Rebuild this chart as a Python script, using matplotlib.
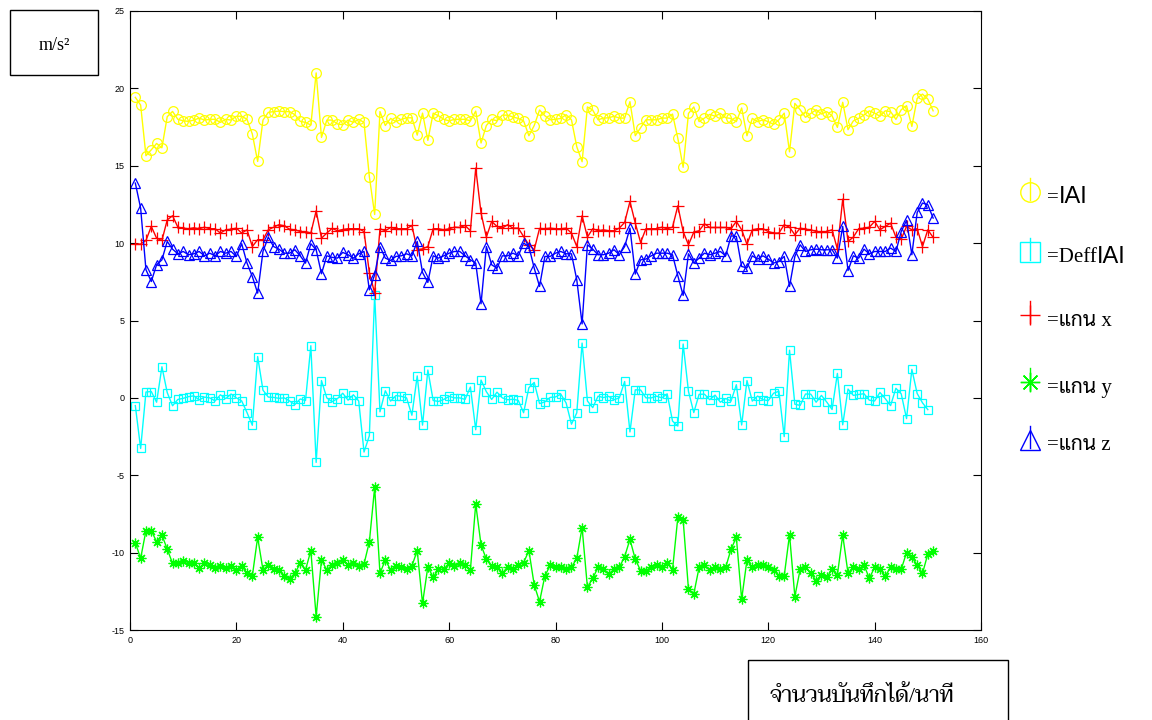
import numpy as np
import matplotlib
matplotlib.use("Agg")
import matplotlib.pyplot as plt
from matplotlib.patches import Rectangle

# DATA (samples 1..151)
mag = [19.42, 18.92, 15.65, 16.03, 16.44, 16.16, 18.17, 18.51, 18.0, 17.9,
       17.87, 17.95, 18.08, 17.95, 18.0, 18.0, 17.8, 18.0, 17.95, 18.2,
       18.2, 18.0, 17.05, 15.28, 17.95, 18.45, 18.5, 18.53, 18.5, 18.5,
       18.3, 17.87, 17.8, 17.63, 21.0, 16.83, 17.95, 17.95, 17.7, 17.65,
       17.95, 17.8, 18.0, 17.8, 14.3, 11.85, 18.5, 17.6, 18.06, 17.85,
       18.0, 18.1, 18.1, 16.98, 18.4, 16.64, 18.4, 18.23, 18.0, 17.9,
       18.0, 18.0, 18.0, 17.9, 18.53, 16.47, 17.6, 18.0, 17.9, 18.27,
       18.27, 18.15, 18.06, 17.9, 16.94, 17.6, 18.6, 18.23, 17.97, 18.0,
       18.06, 18.3, 17.97, 16.23, 15.26, 18.8, 18.6, 17.97, 18.08, 18.1,
       18.2, 18.08, 18.08, 19.14, 16.94, 17.46, 17.97, 17.97, 17.97, 18.08,
       18.08, 18.34, 16.77, 14.9, 18.38, 18.8, 17.85, 18.08, 18.32, 18.2,
       18.38, 18.1, 18.06, 17.85, 18.73, 16.94, 18.06, 17.85, 17.97, 17.85,
       17.67, 17.97, 18.4, 15.9, 19.03, 18.62, 18.13, 18.38, 18.62, 18.34,
       18.5, 18.23, 17.48, 19.1, 17.33, 17.9, 18.06, 18.28, 18.55, 18.4,
       18.2, 18.55, 18.5, 18.0, 18.62, 18.88, 17.54, 19.35, 19.63, 19.31,
       18.55]

# samples 1..150
deff = [-0.50, -3.27, 0.38, 0.41, -0.28, 2.01, 0.34, -0.51, -0.10, -0.03,
        0.08, 0.13, -0.13, 0.05, 0.0, -0.20, 0.20, -0.05, 0.25, 0.0,
        -0.20, -0.95, -1.77, 2.67, 0.50, 0.05, 0.03, -0.03, 0.0, -0.20,
        -0.43, -0.07, -0.17, 3.37, -4.17, 1.12, 0.0, -0.25, -0.05, 0.30,
        -0.15, 0.20, -0.20, -3.50, -2.45, 6.65, -0.90, 0.46, -0.21, 0.15,
        0.10, 0.0, -1.12, 1.42, -1.76, 1.80, -0.17, -0.23, -0.10, 0.10,
        0.0, 0.0, -0.10, 0.70, -2.06, 1.15, 0.40, -0.10, 0.37, 0.0,
        -0.12, -0.09, -0.16, -0.96, 0.66, 1.00, -0.37, -0.26, 0.03, 0.06,
        0.24, -0.33, -1.70, -0.97, 3.54, -0.20, -0.63, 0.11, 0.02, 0.10,
        -0.12, 0.0, 1.06, -2.20, 0.52, 0.51, 0.0, 0.0, 0.11, 0.0,
        0.26, -1.50, -1.82, 3.48, 0.42, -0.95, 0.23, 0.24, -0.12, 0.18,
        -0.28, -0.04, -0.21, 0.85, -1.75, 1.12, -0.21, 0.12, -0.12, -0.18,
        0.30, 0.43, -2.50, 3.08, -0.41, -0.49, 0.25, 0.24, -0.28, 0.16,
        -0.27, -0.75, 1.58, -1.74, 0.57, 0.16, 0.22, 0.27, -0.15, -0.20,
        0.35, -0.05, -0.50, 0.62, 0.26, -1.34, 1.84, 0.28, -0.32, -0.76]

ax_x = [9.94, 9.94, 10.17, 11.08, 10.32, 10.17, 11.5, 11.77, 11.03, 10.97,
        10.93, 10.99, 10.93, 11.03, 10.93, 10.93, 10.65, 10.86, 10.9, 10.97,
        10.65, 10.86, 9.78, 10.22, 10.22, 10.86, 11.03, 11.19, 11.12, 10.9,
        10.86, 10.75, 10.75, 10.65, 12.09, 10.32, 10.65, 10.95, 10.8, 10.88,
        10.93, 10.93, 10.93, 10.75, 8.1, 6.77, 10.93, 10.8, 11.01, 10.93,
        10.93, 10.93, 11.14, 9.57, 9.63, 9.78, 10.93, 10.93, 10.86, 10.93,
        11.03, 11.01, 11.14, 10.8, 14.85, 11.94, 10.39, 11.4, 11.08, 10.97,
        11.19, 10.97, 10.97, 10.43, 9.89, 9.57, 10.95, 10.93,
        10.97, 10.93, 10.93, 10.97, 10.65, 9.78, 11.77, 10.39, 10.93, 10.8,
        10.86, 10.8, 10.8, 10.97, 11.34, 12.69, 11.29, 10.04, 10.93, 10.93,
        10.93, 11.03, 10.93, 11.03, 12.41, 10.75, 9.89, 10.71, 10.8, 11.25,
        11.01, 11.01, 11.01, 11.01, 10.93, 11.4, 10.86, 9.92, 10.86,
        10.93, 10.93, 10.75, 10.65, 10.65, 11.19, 11.03, 10.54, 10.97, 10.9,
        10.86, 10.75, 10.75, 10.75, 10.86, 9.61, 12.84, 10.11, 10.39, 10.93,
        10.97, 11.03, 11.4, 10.86, 11.08, 11.29, 10.39, 10.26, 11.08, 10.86,
        10.93, 9.78, 10.86, 10.37]

ax_y = [-9.35, -10.37, -8.58, -8.58, -9.29, -8.86, -9.78, -10.69, -10.69, -10.52,
        -10.65, -10.65, -11.01, -10.65, -10.8, -11.01, -10.86, -11.01, -10.86, -11.12,
        -10.86, -11.34, -11.51, -9.01, -11.12, -10.8, -11.08, -11.12, -11.51, -11.68,
        -11.34, -10.69, -11.12, -9.87, -14.14, -10.47, -11.12, -10.8, -10.65, -10.47,
        -10.8, -10.69, -10.86, -10.73, -9.31, -5.78, -11.34, -10.47, -11.12, -10.86,
        -10.95, -11.08, -10.86, -9.87, -13.28, -10.91, -11.59, -11.08, -11.08, -10.69,
        -10.86, -10.65, -10.8, -11.12, -6.85, -9.5, -10.43, -10.86, -10.91, -11.34,
        -10.91, -11.08, -10.8, -10.65, -9.87, -12.09, -13.17,
        -11.51, -10.82, -10.95, -10.95, -11.08, -10.95, -10.37, -8.38, -12.24, -11.66,
        -10.95, -11.08, -11.38, -11.08, -10.95, -10.26, -9.14, -10.43, -11.16, -11.16,
        -10.95, -10.82, -10.95, -10.65, -11.12, -7.72, -7.89, -12.37, -12.67, -10.95,
        -10.82, -11.12, -10.95, -11.08, -10.95, -9.78, -9.01, -13.02, -10.47, -10.95,
        -10.8, -10.8, -10.95, -11.12, -11.51, -11.51, -8.84, -12.84, -11.08, -10.95,
        -11.34, -11.81, -11.44, -11.59, -11.08, -11.44, -8.86, -11.34, -10.95, -11.08,
        -10.8, -11.66, -10.95, -11.08, -11.51, -10.95, -11.08, -11.08, -10.0, -10.3,
        -10.8, -11.34, -10.09, -9.87]

ax_z = [13.88, 12.26, 8.28, 7.52, 8.6, 8.92, 10.11, 9.61, 9.31, 9.46,
        9.25, 9.31, 9.46, 9.18, 9.35, 9.18, 9.46, 9.35, 9.46, 9.14,
        9.96, 8.71, 7.84, 6.77, 9.46, 10.39, 9.78, 9.61, 9.35, 9.35,
        9.57, 9.18, 8.71, 9.96, 9.57, 8.02, 9.18, 9.08, 9.03, 9.4,
        9.25, 9.03, 9.31, 9.46, 6.98, 7.95, 9.78, 9.03, 8.88, 9.14,
        9.18, 9.31, 9.18, 10.11, 8.1, 7.46, 9.18, 9.03, 9.18, 9.35,
        9.46, 9.46, 9.18, 8.92, 8.71, 6.08, 9.78, 8.6, 8.38, 9.18,
        9.18, 9.35, 9.18, 10.0, 9.78, 8.38, 7.2, 9.14,
        9.14, 9.35, 9.46, 9.31, 9.31, 7.63, 4.78, 9.89, 9.61, 9.25,
        9.25, 9.35, 9.57, 9.25, 9.78, 10.97, 8.0, 8.92, 8.97, 9.18,
        9.35, 9.35, 9.35, 9.25, 7.89, 6.62, 9.31, 8.71, 9.03, 9.35,
        9.25, 9.35, 9.46, 9.18, 10.47, 10.43, 8.49, 8.4, 9.18,
        8.97, 9.18, 8.97, 8.71, 8.81, 9.14, 7.2, 9.14, 9.89, 9.46,
        9.57, 9.61, 9.57, 9.57, 9.57, 9.03, 11.08, 8.23, 9.18, 9.03,
        9.61, 9.31, 9.46, 9.46, 9.46, 9.68, 9.46, 10.75, 11.47, 9.25,
        11.98, 12.59, 12.48, 11.62]

# legend labels: (serif part, sans part) pairs
legend_labels = [("=", "IAI"), ("=Deff", "IAI"), ("=แกน x", ""),
                 ("=แกน y", ""), ("=แกน z", "")]
y_unit = "m/s²"
x_unit = "จำนวนบันทึกได้/นาที"

SERIF = ["Liberation Serif", "Taviraj", "Trirong", "Noto Serif Thai",
         "Sarabun", "DejaVu Sans"]
THAI_LEG = ["Liberation Serif", "Sarabun", "Noto Sans Thai Looped",
            "Taviraj", "DejaVu Sans"]

plt.rcParams["font.family"] = ["Liberation Sans", "DejaVu Sans"]
plt.rcParams["axes.unicode_minus"] = False

fig = plt.figure(figsize=(11.52, 7.2), dpi=100)
ax = fig.add_axes([130 / 1152, 1 - 630 / 720, 851 / 1152, 619 / 720])

x_full = np.arange(1, len(mag) + 1)
x_deff = np.arange(1, len(deff) + 1)

star = (8, 2, 0)  # matlab-like asterisk
series = [
    (x_full, mag, "#ffff00", "o", 7),
    (x_deff, deff, "#00ffff", "s", 6),
    (x_full, ax_x, "#ff0000", "+", 8),
    (x_full, ax_y, "#00ff00", star, 7),
    (x_full, ax_z, "#0000ff", "^", 7.5),
]
for xs, ys, col, mk, ms in series:
    ax.plot(xs, ys, color=col, lw=1.0, marker=mk, ms=ms,
            mfc="none", mec=col, mew=0.9)

ax.set_xlim(0, 160)
ax.set_ylim(-15, 25)
ax.set_xticks(np.arange(0, 161, 20))
ax.set_yticks(np.arange(-15, 26, 5))
ax.tick_params(direction="in", length=5.5, width=0.8, labelsize=6.5,
               top=True, right=True, pad=4)
for sp in ax.spines.values():
    sp.set_linewidth(0.8)

# overlay in pixel coordinates for the boxes and the hand-made legend
ov = fig.add_axes([0, 0, 1, 1], zorder=5)
ov.set_xlim(0, 1152)
ov.set_ylim(720, 0)
ov.axis("off")
ov.patch.set_alpha(0)
renderer = fig.canvas.get_renderer()


def text_width(t):
    return t.get_window_extent(renderer=renderer).width


ov.add_patch(Rectangle((10, 10), 88, 65, fill=False, lw=1.0, ec="black"))
ov.text(54, 45, y_unit, ha="center", va="center", fontsize=13, family=SERIF)

ov.add_patch(Rectangle((748, 660), 260, 70, fill=False, lw=1.0, ec="black",
                       clip_on=False))
t = ov.text(770, 697, x_unit, ha="left", va="center", fontsize=13,
            family=SERIF)
t.set_fontsize(13 * 185 / text_width(t))  # fit the width seen in the reference

leg_y = [192, 252, 315, 382, 440]
leg_cols = ["#ffff00", "#00ffff", "#ff0000", "#00ff00", "#0000ff"]
leg_mk = ["o", "s", "+", star, "^"]
for yy, col, mk, (p1, p2) in zip(leg_y, leg_cols, leg_mk, legend_labels):
    ov.plot([1030, 1030], [yy - 14, yy + 8], color=col, lw=1.0)
    ov.plot([1030], [yy], marker=mk, ms=14, mfc="none", mec=col, mew=1.0,
            color=col)
    fam = THAI_LEG if "แ" in p1 else SERIF
    t1 = ov.text(1047, yy + 6, p1, ha="left", va="center", fontsize=15,
                 family=fam)
    if p2:
        ov.text(1047 + text_width(t1), yy + 5, p2, ha="left", va="center",
                fontsize=17, family=["Liberation Sans"])

fig.savefig("out.png", dpi=100)
